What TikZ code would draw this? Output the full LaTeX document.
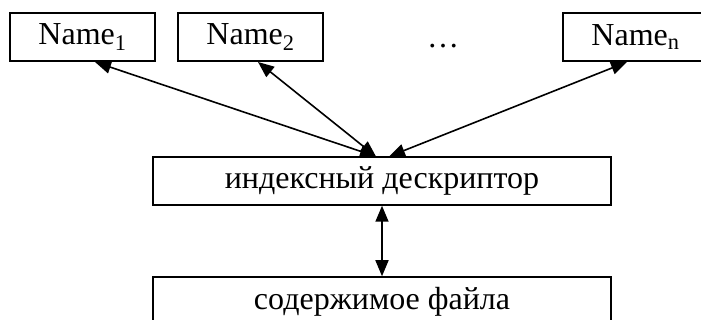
\documentclass[tikz,border=0pt]{standalone}
\usepackage{fontspec}
\setmainfont{Liberation Serif}
\usetikzlibrary{arrows.meta}
\begin{document}
\begin{tikzpicture}[x=1pt,y=-1pt,
  box/.style={draw,line width=1.5pt,inner sep=0pt,font=\fontsize{32}{36}\selectfont},
  link/.style={line width=1.6pt,{Triangle[length=16pt,width=13pt]}-{Triangle[length=16pt,width=13pt]}}]
\useasboundingbox (0,0) rectangle (701,320);
\node[box,minimum width=145pt,minimum height=48pt] (n1) at (82.5,37) {Name\textsubscript{1}};
\node[box,minimum width=145pt,minimum height=48pt] (n2) at (250.5,37) {Name\textsubscript{2}};
\node[font=\fontsize{32}{36}\selectfont,anchor=base] (dots) at (443,48) {…};
\node[box,minimum width=145pt,minimum height=48pt] (nn) at (635.5,37) {Name\textsubscript{n}};
\node[box,minimum width=458pt,minimum height=48pt] (idx) at (382,181) {индексный дескриптор};
\node[box,minimum width=458pt,minimum height=50pt] (cont) at (382,302) {содержимое файла};
\coordinate (c1) at (376,156.5);
\coordinate (c2) at (389,156.5);
\coordinate (t1) at (95,62);
\coordinate (t2) at (258,62);
\coordinate (tn) at (627,62);
\draw[link] (t1) -- (c1);
\draw[link] (t2) -- (c1);
\draw[link] (tn) -- (c2);
\draw[link] (idx.south) -- (cont.north);
\end{tikzpicture}
\end{document}
